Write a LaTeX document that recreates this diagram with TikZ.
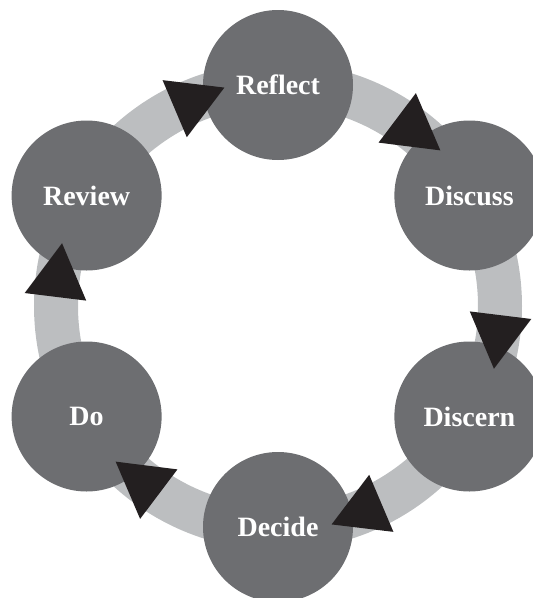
\documentclass[tikz,border=0pt]{standalone}
\usepackage{fontspec}
\setmainfont{Liberation Serif}
\usepackage{tikz}
\usetikzlibrary{calc}

\definecolor{ringgray}{HTML}{BCBEC0}
\definecolor{stagegray}{HTML}{6D6E71}
\definecolor{tipblack}{HTML}{231F20}

\begin{document}
\begin{tikzpicture}[x=1pt,y=1pt,
        stage/.style={circle,fill=stagegray,minimum size=150pt,inner sep=0pt,outer sep=0pt,
            text=white,font=\bfseries\fontsize{28}{28}\selectfont}]
        \useasboundingbox (0,0) rectangle (533,-598);
        \coordinate (hub) at (278,-306);

        % ring behind the stages
        \draw[ringgray,line width=44pt] (hub) circle [radius=222pt];

        % stages, clockwise from the top
        \foreach \id/\txt/\ang in {reflect/Reflect/90, discuss/Discuss/30, discern/Discern/-30,
                decide/Decide/-90, do/Do/-150, review/Review/150}
            \node[stage] (\id) at ($(hub)+(\ang:221)$) {\txt};

        % arrow heads, one before each stage
        \foreach \ang in {90,30,-30,-90,-150,150}
            \fill[tipblack,shift={($(hub)+(\ang+23:222)$)},rotate=\ang+23]
                (0,-36) -- (31,18) -- (-31,18) -- cycle;
    \end{tikzpicture}
\end{document}
